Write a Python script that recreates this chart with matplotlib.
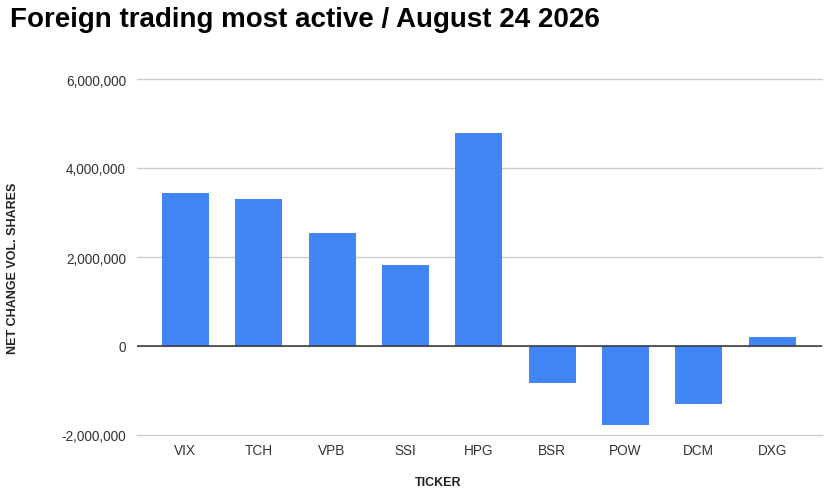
import matplotlib.pyplot as plt
from matplotlib.ticker import FuncFormatter

plt.rcParams["font.family"] = ["Liberation Sans", "DejaVu Sans"]

tickers = ["VIX", "TCH", "VPB", "SSI", "HPG", "BSR", "POW", "DCM", "DXG"]
net_change = [3440000, 3310000, 2540000, 1830000, 4780000,
              -830000, -1770000, -1310000, 200000]
y_ticks = [-2000000, 0, 2000000, 4000000, 6000000]

BAR_COLOR = "#4285f4"

fig = plt.figure(figsize=(8.39, 5.02), dpi=100)
ax = fig.add_axes([137 / 839, 1 - 436 / 502, (822 - 137) / 839, (436 - 80) / 502])

x = range(len(tickers))
ax.bar(x, net_change, width=0.64, color=BAR_COLOR, zorder=3)

ax.set_xlim(-0.66, len(tickers) - 1 + 0.68)
ax.set_ylim(y_ticks[0], y_ticks[-1])
ax.set_yticks(y_ticks)
ax.yaxis.set_major_formatter(FuncFormatter(lambda v, _: f"{int(v):,}"))
ax.set_xticks(list(x))
ax.set_xticklabels(tickers)

ax.grid(axis="y", color="#cccccc", linewidth=1, zorder=0)
for gl in ax.get_ygridlines():
    gl.set_clip_on(False)
ax.axhline(0, color="#333333", linewidth=1.1, zorder=4)
for s in ax.spines.values():
    s.set_visible(False)
ax.tick_params(axis="both", length=0, labelsize=9.8, labelcolor="#333333")
ax.tick_params(axis="y", pad=8)
ax.tick_params(axis="x", pad=6)

fig.text(10 / 839, 1 - 20 / 502, "Foreign trading most active / August 24 2026",
         fontsize=20, fontweight="bold", color="#000000", ha="left", va="center")
fig.text(438 / 839, 1 - 483 / 502, "TICKER", fontsize=9, fontweight="bold",
         color="#222222", ha="center", va="center")
fig.text(13 / 839, 1 - 268 / 502, "NET CHANGE VOL. SHARES", fontsize=9,
         fontweight="bold", color="#222222", ha="center", va="center", rotation=90)

fig.savefig("out.png", dpi=100)
